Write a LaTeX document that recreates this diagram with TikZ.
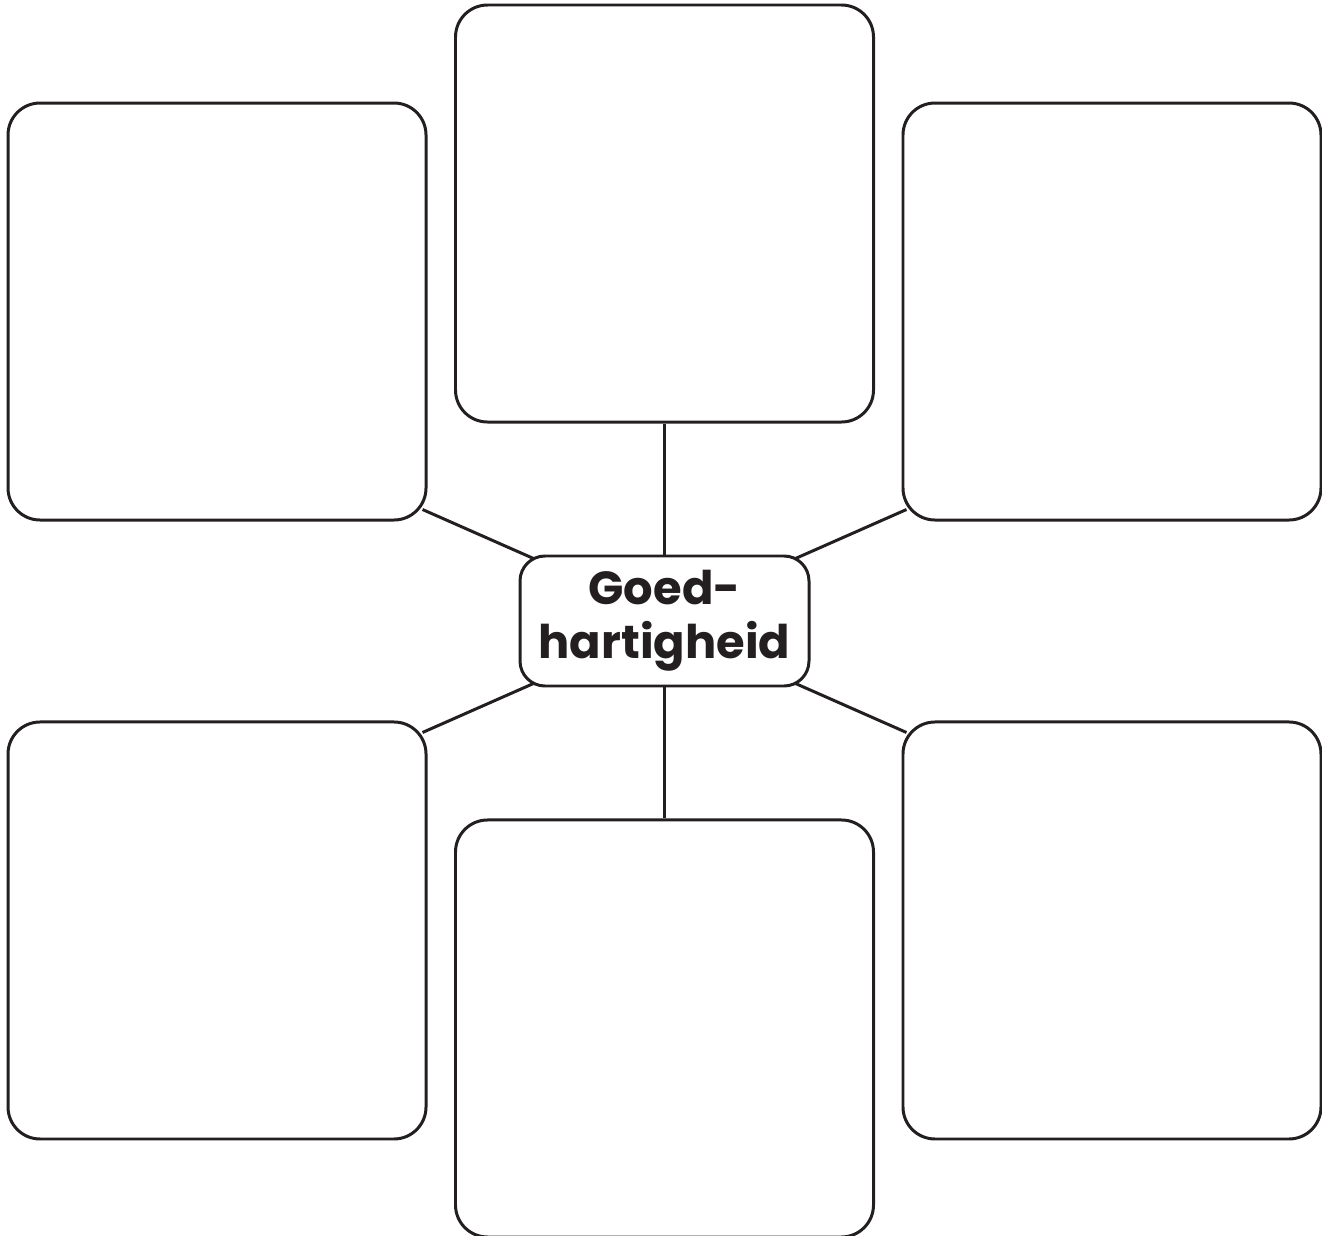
\documentclass[tikz,border=0pt]{standalone}
\usepackage{fontspec}
\setsansfont{Poppins}
\usetikzlibrary{positioning,calc}
\definecolor{ink}{HTML}{231F20}
\tikzset{
  link/.style={draw=ink,line width=0.85pt},
  box/.style={rectangle,rounded corners=3.2mm,draw=ink,line width=0.85pt,fill=white,
    minimum width=41.8mm,minimum height=41.7mm},
  hubbox/.style={box,rounded corners=2.5mm,minimum width=28.9mm,minimum height=13mm,
    align=center,text=ink,font=\sffamily\bfseries\fontsize{13.2}{15.4}\selectfont}
}
\begin{document}
\begin{tikzpicture}
  \useasboundingbox (0,0) rectangle (13.22,-12.36);
  \node[hubbox] (hub) at (6.645,-6.21) {Goed-\\hartigheid};
  \node[box,above=13.1mm of hub] (n) {};
  \node[box,below=13.1mm of hub] (s) {};
  \node[box,above left=3.3mm and 9.1mm of hub] (nw) {};
  \node[box,above right=3.3mm and 9.1mm of hub] (ne) {};
  \node[box,below left=3.3mm and 9.1mm of hub] (sw) {};
  \node[box,below right=3.3mm and 9.1mm of hub] (se) {};
  \draw[link] (n) -- (hub); \draw[link] (s) -- (hub);
  \draw[link] ($(nw.south east)+(-0.05,0.12)$) -- ($(hub.north west)+(0.15,-0.04)$);
  \draw[link] ($(ne.south west)+(0.05,0.12)$) -- ($(hub.north east)+(-0.15,-0.04)$);
  \draw[link] ($(sw.north east)+(-0.05,-0.12)$) -- ($(hub.south west)+(0.15,0.04)$);
  \draw[link] ($(se.north west)+(0.05,-0.12)$) -- ($(hub.south east)+(-0.15,0.04)$);
\end{tikzpicture}
\end{document}
